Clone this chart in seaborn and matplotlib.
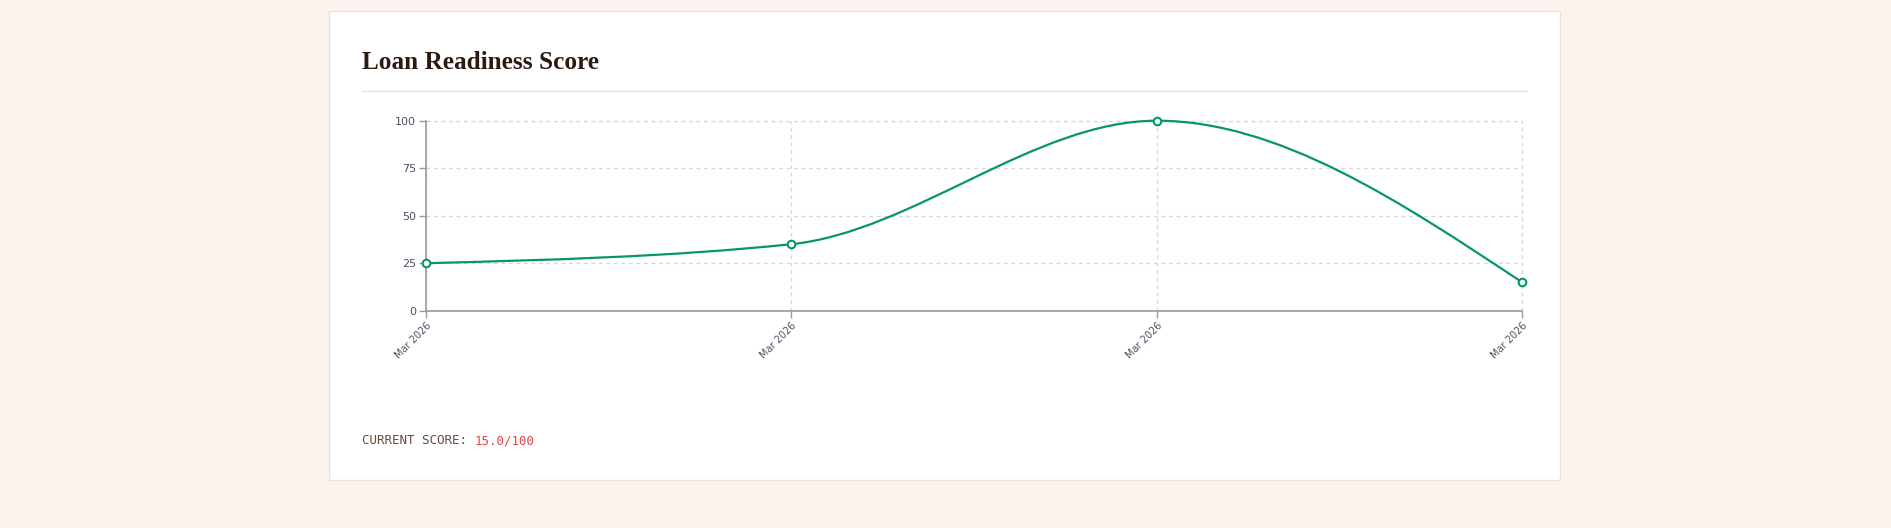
import numpy as np
import pandas as pd
import matplotlib
matplotlib.use("Agg")
import matplotlib.pyplot as plt
from matplotlib.path import Path
from matplotlib.patches import PathPatch, Rectangle
from matplotlib.lines import Line2D
import seaborn as sns

# data
periods = ["Mar 2026", "Mar 2026", "Mar 2026", "Mar 2026"]
scores = [25, 35, 100, 15]
y_ticks = [0, 25, 50, 75, 100]
current_score = 15.0

GREEN = "#079669"
BG = "#fdf3ee"
GRID = "#d6d6d6"

sns.set_theme(style="white")
plt.rcParams["font.family"] = ["DejaVu Sans"]

fig = plt.figure(figsize=(18.91, 5.28), dpi=100, facecolor=BG)

# white card with thin peach border, kept behind the axes
fig.patches.append(Rectangle((329 / 1891, 1 - 480 / 528), 1231 / 1891, 469 / 528,
                             transform=fig.transFigure, facecolor="white",
                             edgecolor="#f3dfd5", linewidth=1, zorder=-10))
fig.text(362 / 1891, 1 - 69 / 528, "Loan Readiness Score", family="Liberation Serif",
         fontsize=18.2, fontweight="bold", color="#2b1a12", va="baseline")
fig.lines.append(Line2D([362 / 1891, 1527 / 1891], [1 - 91 / 528, 1 - 91 / 528],
                        transform=fig.transFigure, color="#f0e0d8", linewidth=1, zorder=-5))

ax = fig.add_axes([426 / 1891, 1 - 310.7 / 528, 1096 / 1891, 190 / 528])
ax.set_facecolor("white")
ax.set_zorder(5)

df = pd.DataFrame({"idx": np.arange(len(scores)), "score": scores})

# monotone-x smooth line (same tangents as d3 curveMonotoneX), drawn as bezier path
x = df["idx"].to_numpy(float)
y = df["score"].to_numpy(float)
n = len(x)
t = np.zeros(n)
for i in range(1, n - 1):
    h0, h1 = x[i] - x[i - 1], x[i + 1] - x[i]
    s0, s1 = (y[i] - y[i - 1]) / h0, (y[i + 1] - y[i]) / h1
    p = (s0 * h1 + s1 * h0) / (h0 + h1)
    t[i] = (np.sign(s0) + np.sign(s1)) * min(abs(s0), abs(s1), 0.5 * abs(p))
t[0] = (3 * (y[1] - y[0]) / (x[1] - x[0]) - t[1]) / 2
t[-1] = (3 * (y[-1] - y[-2]) / (x[-1] - x[-2]) - t[-2]) / 2
verts = [(x[0], y[0])]
codes = [Path.MOVETO]
for i in range(n - 1):
    dx = (x[i + 1] - x[i]) / 3
    verts += [(x[i] + dx, y[i] + dx * t[i]), (x[i + 1] - dx, y[i + 1] - dx * t[i + 1]),
              (x[i + 1], y[i + 1])]
    codes += [Path.CURVE4] * 3
ax.add_patch(PathPatch(Path(verts, codes), facecolor="none", edgecolor=GREEN,
                       linewidth=1.6, zorder=3, clip_on=False))

sns.scatterplot(data=df, x="idx", y="score", ax=ax, s=30, color="white",
                edgecolor=GREEN, linewidth=1.5, zorder=4, clip_on=False)

ax.set_xlim(0, len(scores) - 1)
ax.set_ylim(0, 100)
ax.set_xticks(df["idx"])
ax.set_xticklabels(periods, rotation=45, ha="right", rotation_mode="anchor",
                   fontsize=7, color="#4b5060")
ax.set_yticks(y_ticks)
ax.set_yticklabels([str(v) for v in y_ticks], fontsize=8, color="#4b5060")
ax.set_xlabel("")
ax.set_ylabel("")
ax.grid(True, color=GRID, linestyle=(0, (3, 3)), linewidth=0.9)
ax.set_axisbelow(True)
for side in ["top", "right"]:
    ax.spines[side].set_visible(False)
for side in ["left", "bottom"]:
    ax.spines[side].set_color("#9a9a9a")
    ax.spines[side].set_linewidth(1.2)
ax.tick_params(axis="both", which="major", length=5, width=1, color="#9a9a9a",
               left=True, bottom=True, pad=2)
# dashed top and right borders come from the gridlines at 100 and the last point
ax.axhline(100, color=GRID, linestyle=(0, (3, 3)), linewidth=0.9, zorder=0, clip_on=False)
ax.axvline(len(scores) - 1, color=GRID, linestyle=(0, (3, 3)), linewidth=0.9, zorder=0,
           clip_on=False)

label = fig.text(362 / 1891, 1 - 444 / 528, "CURRENT SCORE: ", family="DejaVu Sans Mono",
                 fontsize=9, color="#6a4a3e", va="baseline")
fig.canvas.draw()
bb = label.get_window_extent()
fig.text(bb.x1 / fig.bbox.width, 1 - 444 / 528, f"{current_score:.1f}/100",
         family="DejaVu Sans Mono", fontsize=9, color="#e04848", va="baseline")

fig.savefig("out.png", dpi=100, facecolor=BG)
plt.close(fig)
